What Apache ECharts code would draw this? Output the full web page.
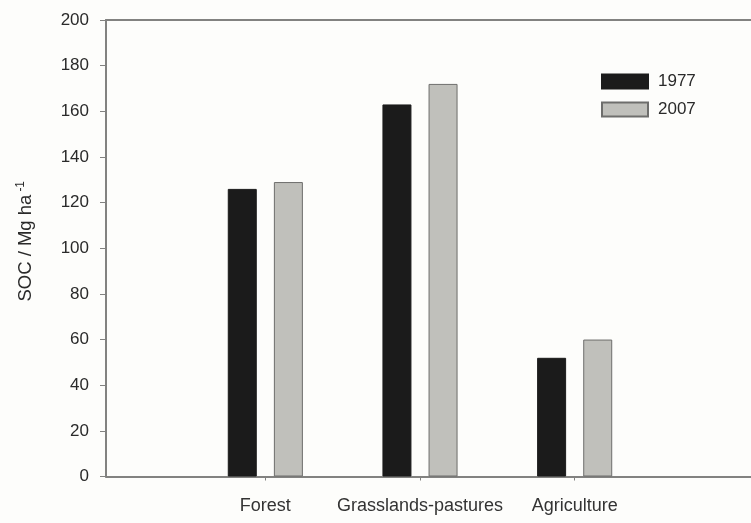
<!DOCTYPE html>
<html>
<head>
<meta charset="utf-8">
<script src="https://cdn.jsdelivr.net/npm/echarts@6/dist/echarts.min.js"></script>
<style>
  html, body { margin: 0; padding: 0; background: #fdfdfb; }
  #chart { width: 751px; height: 523px; }
</style>
</head>
<body>
<div id="chart"></div>
<script>
// Soil organic carbon stocks by land use, two survey years
const categories = ['Forest', 'Grasslands-pastures', 'Agriculture'];
const soc1977 = [126, 163, 52];
const soc2007 = [129, 172, 60];
const yTicks = { min: 0, max: 200, interval: 20 };

const FONT = "'Liberation Sans', Arial, sans-serif";
const AXIS_GRAY = '#828280';
const TEXT = '#2a2a2a';

const chart = echarts.init(document.getElementById('chart'));
chart.setOption({
  backgroundColor: '#fdfdfb',
  animation: false,
  textStyle: { fontFamily: FONT },
  grid: [
    // frame: y axis, baseline and top border
    { left: 106, right: -4, top: 20, bottom: 46.5 },
    // bar area
    { left: 188, right: 99, top: 20, bottom: 46.5 }
  ],
  legend: {
    orient: 'vertical',
    left: 601, top: 73, padding: 0,
    itemWidth: 46, itemHeight: 14, itemGap: 11,
    icon: 'rect',
    textStyle: { fontSize: 17, color: TEXT, fontFamily: FONT, padding: [0, 0, 0, 5] },
    data: ['1977', '2007']
  },
  xAxis: [
    {
      gridIndex: 0, type: 'value', min: 0, max: 1,
      axisLine: { show: true, lineStyle: { color: AXIS_GRAY, width: 2 } },
      axisTick: { show: false }, axisLabel: { show: false }, splitLine: { show: false }
    },
    {
      gridIndex: 0, type: 'value', min: 0, max: 1, position: 'top',
      axisLine: { show: true, lineStyle: { color: AXIS_GRAY, width: 2 } },
      axisTick: { show: false }, axisLabel: { show: false }, splitLine: { show: false }
    },
    {
      gridIndex: 1, type: 'category', data: categories,
      axisLine: { show: false },
      axisTick: { show: true, alignWithLabel: true, interval: 0, length: 4, lineStyle: { color: AXIS_GRAY, width: 1 } },
      axisLabel: { interval: 0, margin: 21, fontSize: 18, color: '#333', fontFamily: FONT }
    }
  ],
  yAxis: [
    {
      gridIndex: 0, type: 'value',
      min: yTicks.min, max: yTicks.max, interval: yTicks.interval,
      axisLine: { show: true, lineStyle: { color: AXIS_GRAY, width: 2 } },
      axisTick: { show: true, length: 6, lineStyle: { color: AXIS_GRAY, width: 1 } },
      axisLabel: { margin: 17, fontSize: 17, color: TEXT, fontFamily: FONT },
      splitLine: { show: false },
      name: '{a|SOC / Mg ha}{s|-1}',
      nameLocation: 'middle',
      nameGap: 69,
      nameTextStyle: {
        padding: [0, 0, 0, 14],
        rich: {
          a: { fontSize: 18.5, color: TEXT, fontFamily: FONT },
          s: { fontSize: 12, color: TEXT, fontFamily: FONT, verticalAlign: 'top', padding: [0, 0, 10, 3] }
        }
      }
    },
    {
      gridIndex: 1, type: 'value',
      min: yTicks.min, max: yTicks.max, interval: yTicks.interval,
      show: false
    }
  ],
  series: [
    {
      name: '1977', type: 'bar', xAxisIndex: 2, yAxisIndex: 1,
      data: soc1977, barWidth: 29, barGap: '59%',
      itemStyle: { color: '#1b1b1b', borderColor: '#1b1b1b', borderWidth: 1 }
    },
    {
      name: '2007', type: 'bar', xAxisIndex: 2, yAxisIndex: 1,
      data: soc2007, barWidth: 29, barGap: '59%',
      itemStyle: { color: '#c0c0bb', borderColor: '#6e6e6c', borderWidth: 1 }
    }
  ]
});
</script>
</body>
</html>
